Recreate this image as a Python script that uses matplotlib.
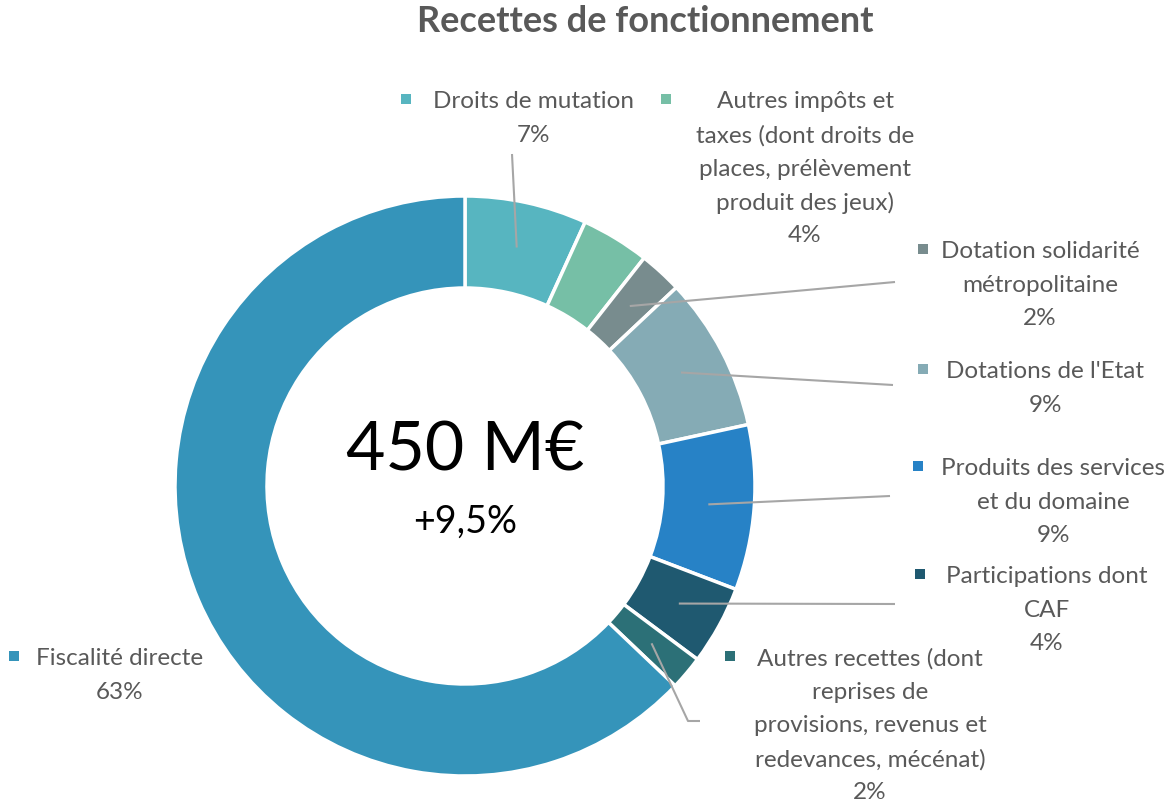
import numpy as np
import matplotlib.pyplot as plt

# data, clockwise from 12 o'clock
names = ['Droits de mutation',
         'Autres impôts et\ntaxes (dont droits de\nplaces, prélèvement\nproduit des jeux)',
         'Dotation solidarité\nmétropolitaine',
         "Dotations de l'Etat",
         'Produits des services\net du domaine',
         'Participations dont\nCAF',
         'Autres recettes (dont\nreprises de\nprovisions, revenus et\nredevances, mécénat)',
         'Fiscalité directe']
values = [6.8, 3.8, 2.4, 8.6, 9.2, 4.4, 1.9, 62.9]
colors = ['#57B5C0', '#76BFA6', '#788C8E', '#85ABB5', '#2782C6', '#1F5970', '#2C7077', '#3594BA']
total_txt = '450 M€'
growth_txt = '+9,5%'

# label layout (pixel coords, y from top): text centre x, first line y, marker x, leader end
lab_x = [533, 805, 1040, 1045, 1053, 1047, 870, 120]
lab_y = [100, 100, 250, 370, 467, 575, 657, 657]
mark_x = [406, 666, 923, 923, 918, 920, 730, 14]
lead_end = [(512, 155), None, (895, 283), (893, 386), (890, 497), (895, 605), (688, 722), None]

W, H = 1175, 803
cx, cy, R, ring = 465, 487, 290, 92
txtc = '#595959'
plt.rcParams['font.family'] = ['Lato', 'DejaVu Sans']

fig = plt.figure(figsize=(W / 100, H / 100), dpi=100)
ax = fig.add_axes([0, 0, 1, 1])
wedges, _ = ax.pie(values, colors=colors, startangle=90, counterclock=False,
                   center=(cx, H - cy), radius=R,
                   wedgeprops=dict(width=ring, edgecolor='white', linewidth=2.5))
ax.set_xlim(0, W)
ax.set_ylim(0, H)
ax.set_aspect('equal')
ax.axis('off')

# leader lines from middle of ring
frac = np.array(values) / sum(values)
mid = np.cumsum(frac) - frac / 2
for i, end in enumerate(lead_end):
    if end is None:
        continue
    a = np.radians(90 - 360 * mid[i])
    r = R - ring / 2
    x0, y0 = cx + r * np.cos(a), cy - r * np.sin(a)
    if i == 6:
        xs = [x0, end[0], end[0] + 12]
        ys = [y0, end[1], end[1]]
    else:
        xs = [x0, end[0]]
        ys = [y0, end[1]]
    ax.plot(xs, [H - v for v in ys], color='#A6A6A6', lw=1.5, solid_capstyle='butt')

# labels, one line at a time
dy = 33.5
for i, nm in enumerate(names):
    lines = nm.split('\n') + ['%d%%' % round(values[i])]
    for k, ln in enumerate(lines):
        ax.text(lab_x[i], H - (lab_y[i] + k * dy), ln, ha='center', va='center_baseline',
                fontsize=17.5, color=txtc)
    ax.scatter([mark_x[i]], [H - lab_y[i]], marker='s', s=60, color=colors[i], linewidths=0)

ax.text(cx, H - 452, total_txt, ha='center', va='center', fontsize=49, color='black')
ax.text(cx, H - 522, growth_txt, ha='center', va='center', fontsize=27, color='black')
ax.text(645, H - 22, 'Recettes de fonctionnement', ha='center', va='center',
        fontsize=26, fontweight='bold', color=txtc)

fig.savefig('out.png', dpi=100)
